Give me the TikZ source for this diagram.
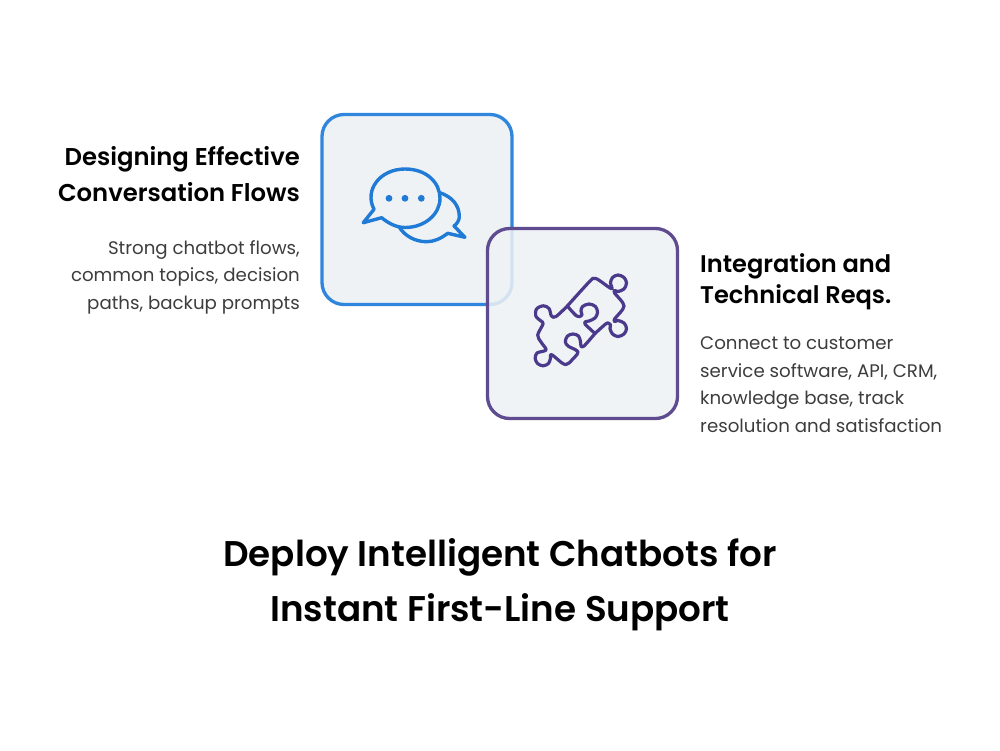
\documentclass[tikz,border=0pt]{standalone}
\usepackage{fontspec}
\setmainfont[BoldFont={Poppins SemiBold}]{Poppins}
\usetikzlibrary{positioning, calc}
\definecolor{chatblue}{HTML}{2F86DC}
\definecolor{iconblue}{HTML}{1F7BD6}
\definecolor{puzzlepurple}{HTML}{5F4B8F}
\definecolor{iconpurple}{HTML}{4B3A8C}
\definecolor{boxfill}{HTML}{EEF2F5}
\tikzset{
  cardbox/.style={draw, line width=3.3pt, fill=boxfill, rounded corners=22pt, minimum width=190pt, minimum height=190pt, inner sep=0pt},
  headtext/.style={font=\bfseries\fontsize{24.3}{36}\selectfont, inner sep=0pt},
  bodytext/.style={font=\fontsize{18.2}{27.5}\selectfont, text=black!76, inner sep=0pt},
  titletext/.style={font=\bfseries\fontsize{35.7}{55}\selectfont, align=center, inner sep=0pt},
  chaticon/.style={draw=iconblue, line width=3.4pt, line join=round},
  puzzleicon/.style={draw=iconpurple, line width=3.2pt, line join=round, line cap=round}
}
\begin{document}
\begin{tikzpicture}[x=1pt, y=-1pt]
  \useasboundingbox (0,0) rectangle (1000,750);
  \fill[white] (0,0) rectangle (1000,750);
  \node [cardbox, draw=chatblue] (chatcard) at (417,209.5) {};
  % bubbles
  \draw [chaticon] (440,192.7) .. controls (452,197) and (459.3,205) .. (459.3,216.7) .. controls (459.3,220) and (457,224) .. (454,226) -- (465,237.3) -- (447.7,233.3) .. controls (441,238.5) and (434,241.7) .. (426.7,241.7) .. controls (415,241.7) and (405,236) .. (399.3,227.3);
  \draw [chaticon] (374,209.3) .. controls (364,190) and (380,169) .. (405,169) .. controls (427,169) and (440,183) .. (440,198.3) .. controls (440,214) and (425,227.5) .. (405,227.5) .. controls (396,227.5) and (388,223) .. (381.7,217.7) -- (363.3,222.7) -- cycle;
  \foreach \dotx in {389,405,421.3}
    \fill [iconblue] (\dotx,198.3) circle (3.4);
  \node [cardbox, draw=puzzlepurple, fill opacity=0.86, draw opacity=1] (puzzlecard) at (582.5,323.5) {};
  % puzzle pieces
  \draw [puzzleicon] plot [smooth, tension=0.55] coordinates {(567.3,306) (590,281) (594,278.5) (598,279.5) (610,288) (612,288) (610.5,283) (612.5,277.5) (618,275) (624,277.5) (626.5,283) (624,289) (618,291.5) (615,290.5) (614.5,293) (624,306) (614.5,319) (615,321.5) (618,320.5) (624,323) (626.5,328.5) (624,334) (618,336.5) (612.5,334) (610,328.5) (610.5,325) (608,323) (605,324.5) (595,333.5)};
  \draw [puzzleicon] plot [smooth, tension=0.55] coordinates {(567.3,306) (576,315.5) (580,316.5) (582,315) (581,311) (582.5,306.5) (589,304) (595.5,306.5) (597.5,312.5) (595,318) (589,321) (586,321.5) (585,324) (595,333.5)};
  \draw [puzzleicon] plot [smooth, tension=0.55] coordinates {(567.3,306) (556,316.5) (551.5,316) (549,308.5) (543.3,305.8) (536.5,309) (536,316.5) (541,321) (543,324) (537.7,335) (541,342) (546,349) (544,351) (537,353) (535.2,358.3) (537.5,363.5) (543,365.8) (548.5,363.5) (550.5,358) (550.5,355) (553,355.5) (562,363) (566,364.5) (569,363) (577,354.5) (578,352) (575,349.5) (568,346) (565.3,341.7) (567.5,336) (573,334) (578.5,336) (580.5,341.7) (581,346) (584,346) (595,333.5)};
  \node [headtext, align=right, anchor=north east] (flowhead) at (300,146) {Designing Effective\\Conversation Flows};
  \node [bodytext, align=right, anchor=north east] (flowbody) at (300,240) {Strong chatbot flows,\\common topics, decision\\paths, backup prompts};
  \node [headtext, font=\bfseries\fontsize{24.1}{31}\selectfont, align=left, anchor=north west] (reqhead) at (700,253.5) {Integration and\\Technical Reqs.};
  \node [bodytext, align=left, anchor=north west] (reqbody) at (700,336.5) {Connect to customer\\service software, API, CRM,\\knowledge base, track\\resolution and satisfaction};
  \node [titletext, anchor=north] (maintitle) at (500,538) {Deploy Intelligent Chatbots for\\Instant First-Line Support};
\end{tikzpicture}
\end{document}
